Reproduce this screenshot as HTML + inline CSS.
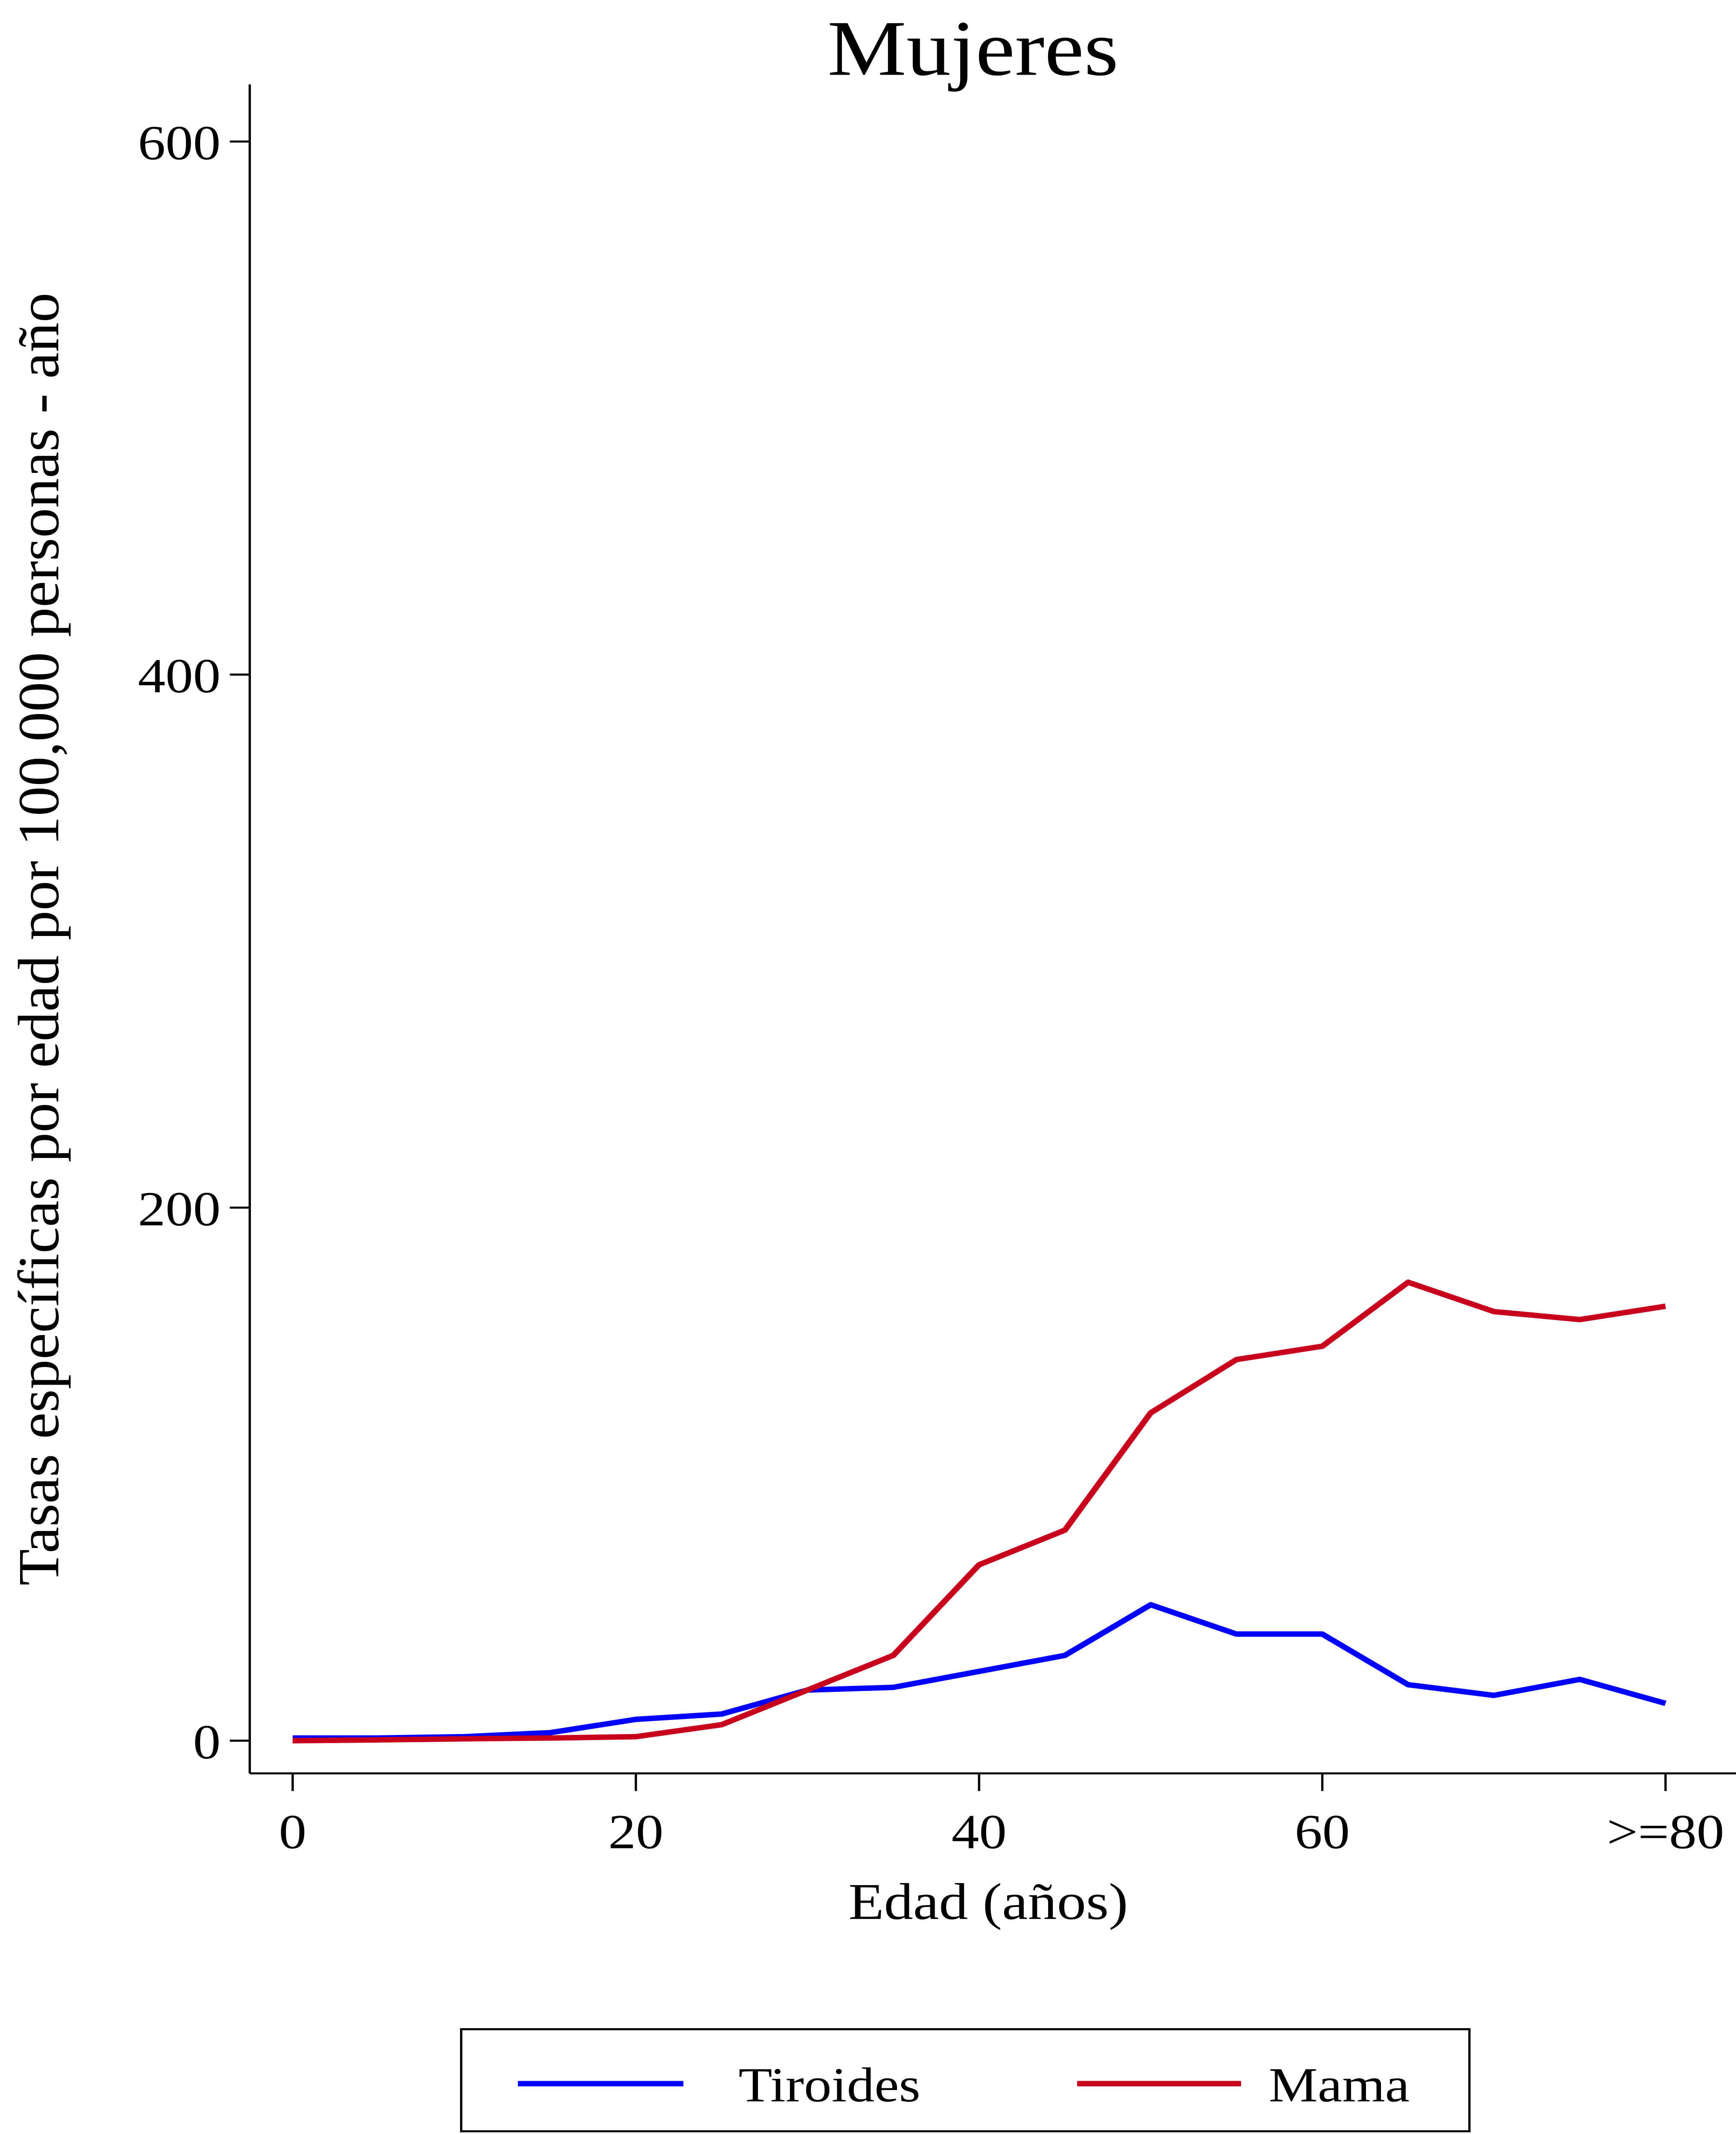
<!DOCTYPE html>
<html><head><meta charset="utf-8"><style>
html,body{margin:0;padding:0;background:#fff;width:100%;height:100%;overflow:hidden;}
svg{display:block;position:absolute;left:0;top:0;width:100vw;height:100vh;}
text{font-family:"Liberation Serif",serif;fill:#000;}
</style></head><body>
<svg id="chart" viewBox="0 0 1133 1568" preserveAspectRatio="none" xmlns="http://www.w3.org/2000/svg">
<rect x="0" y="0" width="1133" height="1568" fill="#fff"/>
<text x="635" y="55" font-size="58" text-anchor="middle">Mujeres</text>
<g id="axes"></g>
<g id="series"></g>
<text x="645" y="1410" font-size="38" text-anchor="middle">Edad (años)</text>
<text transform="translate(38,690) rotate(-90)" font-size="38" text-anchor="middle" textLength="950" lengthAdjust="spacingAndGlyphs">Tasas específicas por edad por 100,000 personas - año</text>
<g>
<rect x="301" y="1491" width="658" height="75" fill="#fff" stroke="#000" stroke-width="1.5"/>
<line x1="338" y1="1531" x2="446" y2="1531" stroke="#0000ff" stroke-width="4"/>
<text x="482" y="1544" font-size="36">Tiroides</text>
<line x1="703" y1="1531" x2="810" y2="1531" stroke="#c8001e" stroke-width="4"/>
<text x="828" y="1544" font-size="36">Mama</text>
</g>
</svg>
<script>
const ages = [0,5,10,15,20,25,30,35,40,45,50,55,60,65,70,75,80];
const tiroides = [1,1,1.5,3,8,10,19,20,26,32,51,40,40,21,17,23,14];
const mama = [0,0.3,0.7,1,1.5,6,19,32,66,79,123,143,148,172,161,158,163];
const yTicks = [0,200,400,600];
const xTicks = [0,20,40,60,80];
const xTickLabels = ["0","20","40","60",">=80"];
const NS="http://www.w3.org/2000/svg";
const xs = v => 191 + (v/80)*(1087-191);
const ys = v => 1279 - (v/600)*(1279-104);
const axes=document.getElementById('axes');
function mk(tag,attrs,parent){const e=document.createElementNS(NS,tag);for(const k in attrs)e.setAttribute(k,attrs[k]);parent.appendChild(e);return e;}
let yl=mk('line',{x1:163,y1:62,x2:163,y2:1303,stroke:'#000','stroke-width':1.5},axes);


let xl=mk('line',{x1:163,y1:1303,x2:1133,y2:1303,stroke:'#000','stroke-width':1.5},axes);


yTicks.forEach(t=>{
 const tk=mk('line',{x1:150,y1:ys(t),x2:163,y2:ys(t),stroke:'#000','stroke-width':1.5},axes);
 
 
 const tx=mk('text',{x:144,y:ys(t)+13,'font-size':36,'text-anchor':'end'},axes);
 tx.textContent=t;
 
 
});
xTicks.forEach((t,i)=>{
 const tk=mk('line',{x1:xs(t),y1:1303,x2:xs(t),y2:1316,stroke:'#000','stroke-width':1.5},axes);
 
 
 const tx=mk('text',{x:xs(t),y:1358,'font-size':36,'text-anchor':'middle'},axes);
 tx.textContent=xTickLabels[i];
 
 
});
const sg=document.getElementById('series');
function line(vals,color,name){
 const pts=ages.map((a,i)=>xs(a)+','+ys(vals[i])).join(' ');
 const p=mk('polyline',{points:pts,fill:'none',stroke:color,'stroke-width':4,'stroke-linejoin':'round'},sg);
 
 
}
line(tiroides,'#0000ff','tiroides-line');
line(mama,'#c8001e','mama-line');
</script>
</body></html>
